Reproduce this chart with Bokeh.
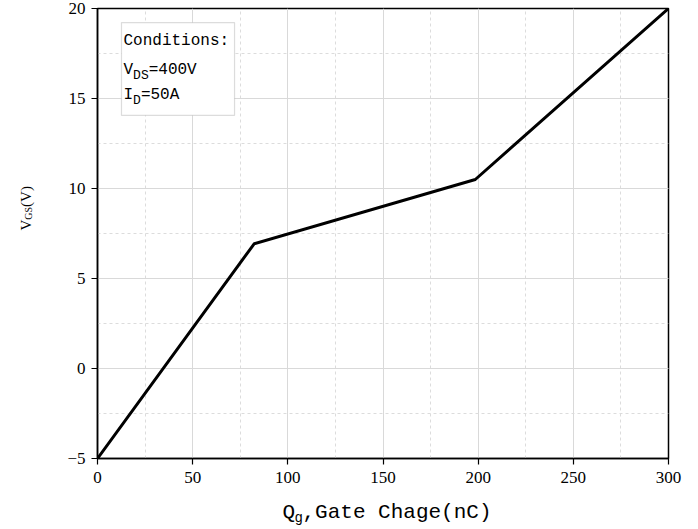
from bokeh.plotting import figure
from bokeh.models import Range1d, Label, BoxAnnotation, SingleIntervalTicker
from bokeh.layouts import row, column
from bokeh.embed import file_html
from bokeh.resources import INLINE
from math import pi

# Data
qg = [0, 82.3, 198.5, 300]
vgs = [-5, 6.93, 10.5, 20]

# Texts
x_label_main = "Q"
x_label_sub = "g"
x_label_rest = ",Gate Chage(nC)"
y_label_main = "V"
y_label_sub = "GS"
y_label_rest = "(V)"
cond_title = "Conditions:"

mono = "Liberation Mono"
serif = "Liberation Serif"

LEFT_W = 40
MAIN_W = 658
MAIN_H = 490
XL_H = 39
FRAME_W = 571

p = figure(width=MAIN_W, height=MAIN_H, output_backend="svg", toolbar_location=None,
           x_range=Range1d(0, 300), y_range=Range1d(-5, 20),
           min_border_left=57, min_border_right=30, min_border_top=8, min_border_bottom=32)

p.line(qg, vgs, line_color="black", line_width=3)

p.xaxis.ticker = SingleIntervalTicker(interval=50, num_minor_ticks=2)
p.yaxis.ticker = SingleIntervalTicker(interval=5, num_minor_ticks=2)

for ax in (p.xaxis, p.yaxis):
    ax.axis_line_color = "black"
    ax.axis_line_width = 1.5
    ax.major_tick_line_color = "black"
    ax.major_tick_line_width = 1.2
    ax.major_tick_out = 6
    ax.major_tick_in = 0
    ax.minor_tick_line_color = None
    ax.major_label_text_font = serif
    ax.major_label_text_font_size = "17px"
    ax.major_label_text_color = "black"
    ax.axis_label = None

p.xaxis.major_label_standoff = 7
p.yaxis.major_label_standoff = 6

for g in (p.xgrid, p.ygrid):
    g.grid_line_color = "#d9d9d9"
    g.grid_line_width = 1
    g.minor_grid_line_color = "#dcdcdc"
    g.minor_grid_line_dash = "3 3"
    g.minor_grid_line_width = 1

p.outline_line_color = "black"
p.outline_line_width = 1.5
p.background_fill_color = "white"
p.border_fill_color = "white"

# Conditions box
box = BoxAnnotation(left=12.6, right=72.0, top=19.22, bottom=14.06,
                    fill_color="white", fill_alpha=1.0,
                    line_color="#8a8a8a", line_width=1.2)
p.add_layout(box)


def lab(fig, x, y, text, size, font=mono, xo=0, yo=0, angle=0):
    fig.add_layout(Label(x=x, y=y, text=text, text_font=font, text_font_size=size,
                         text_color="black", text_baseline="alphabetic", text_align="left",
                         x_offset=xo, y_offset=yo, angle=angle))

bx = 13.66
up = 5
lab(p, bx, 17.94, cond_title, "16px", yo=up)
lab(p, bx, 16.28, "V", "16px", yo=up)
lab(p, bx, 16.28, "DS", "13px", xo=9.6, yo=up - 5)
lab(p, bx, 16.28, "=400V", "16px", xo=9.6 + 15.6, yo=up)
lab(p, bx, 14.89, "I", "16px", yo=up)
lab(p, bx, 14.89, "D", "13px", xo=9.6, yo=up - 5)
lab(p, bx, 14.89, "=50A", "16px", xo=9.6 + 7.8, yo=up)


def blank(fw, fh):
    f = figure(frame_width=fw, frame_height=fh, output_backend="svg", toolbar_location=None,
               x_range=Range1d(0, fw), y_range=Range1d(0, fh), title=None,
               x_axis_type=None, y_axis_type=None, min_border=0)
    f.outline_line_color = None
    f.background_fill_color = "white"
    f.border_fill_color = "white"
    return f

# X-axis label panel (frame aligned with the main plot frame)
xl = blank(FRAME_W, XL_H)
xb = 17
lab(xl, 185, xb, x_label_main, "21px")
lab(xl, 197, xb, x_label_sub, "14px", yo=-5)
lab(xl, 205, xb, x_label_rest, "21px")

# Y-axis label panel (rotated)
yl = blank(LEFT_W, MAIN_H + XL_H)
yb = MAIN_H + XL_H - 230
lab(yl, 25, yb, y_label_main, "15px", font=serif, angle=pi / 2)
lab(yl, 25, yb, y_label_sub, "10px", font=serif, angle=pi / 2, xo=3, yo=10.8)
lab(yl, 25, yb, y_label_rest, "15px", font=serif, angle=pi / 2, yo=10.8 + 12.8)

layout = row(yl, column(p, xl, spacing=0), spacing=0)

open("out.html", "w").write(file_html(layout, INLINE))
